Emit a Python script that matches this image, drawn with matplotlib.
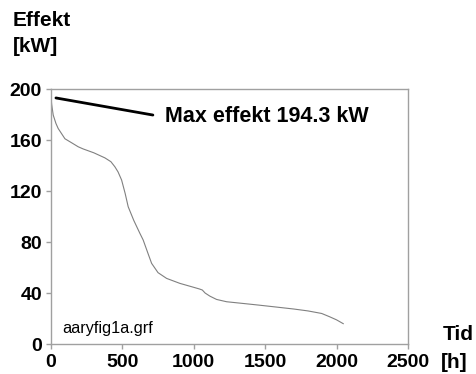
import matplotlib
matplotlib.use("Agg")
import matplotlib.pyplot as plt

hours = [0, 5, 16, 35, 51, 98, 150, 191, 226, 300, 378, 420, 448, 470, 495, 520, 541, 580, 623, 646, 680, 705, 750, 810, 903, 1000, 1040, 1060, 1080, 1113, 1160, 1230, 1350, 1452, 1557, 1700, 1800, 1896, 1950, 2000, 2047]
power = [194.3, 188, 179.6, 173, 169, 161, 157.5, 154.7, 153, 150, 146, 143, 139, 135, 128.6, 118, 107.7, 97, 86.8, 81.6, 71, 63.3, 56, 51.5, 47.6, 44.5, 43.2, 42.4, 40, 37.6, 35, 33.2, 31.8, 30.6, 29.3, 27.5, 26, 24, 21.5, 19, 16]

xticks = [0, 500, 1000, 1500, 2000, 2500]
yticks = [0, 40, 80, 120, 160, 200]

FONT = "Liberation Sans"

fig = plt.figure(figsize=(4.76, 3.74), dpi=100)
ax = fig.add_axes([0.107, 0.080, 0.75, 0.682])
ax.plot(hours, power, color="#808080", lw=0.8)
ax.set_xlim(0, 2500)
ax.set_ylim(0, 200)
ax.set_xticks(xticks)
ax.set_yticks(yticks)
for s in ax.spines.values():
    s.set_color("#a0a0a0")
    s.set_linewidth(1.0)
ax.tick_params(colors="#a0a0a0", length=3.5, width=1.0, labelcolor="black", labelsize=14)
ax.tick_params(axis="x", pad=4)
ax.tick_params(axis="y", pad=3)
for lab in ax.get_xticklabels() + ax.get_yticklabels():
    lab.set_fontfamily(FONT)
    lab.set_fontweight("bold")

ax.annotate("", xy=(35, 193), xytext=(714, 179.6),
            arrowprops=dict(arrowstyle="-", color="black", lw=2, shrinkA=0, shrinkB=0))
ax.text(798, 178.8, "Max effekt 194.3 kW", fontsize=15.5, fontweight="bold",
        family=FONT, va="center", ha="left")
ax.text(77, 12.5, "aaryfig1a.grf", fontsize=11.7, family=FONT,
        va="center", ha="left")

fig.text(13 / 476, 1 - 20.5 / 374, "Effekt", fontsize=15, fontweight="bold",
         family=FONT, va="center", ha="left")
fig.text(13 / 476, 1 - 46 / 374, "[kW]", fontsize=15, fontweight="bold",
         family=FONT, va="center", ha="left")
fig.text(443 / 476, 1 - 335 / 374, "Tid", fontsize=15, fontweight="bold",
         family=FONT, va="center", ha="left")
fig.text(441 / 476, 1 - 362 / 374, "[h]", fontsize=15, fontweight="bold",
         family=FONT, va="center", ha="left")

fig.savefig("out.png", dpi=100)
